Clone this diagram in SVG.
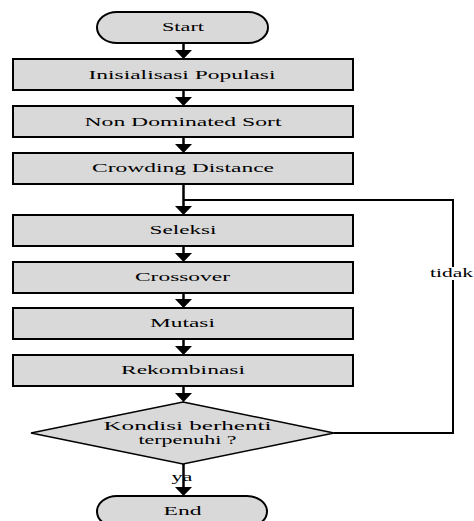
<svg xmlns="http://www.w3.org/2000/svg" width="474" height="521" viewBox="0 0 474 521">
<defs>
<style>
.box{fill:#d9d9d9;stroke:#000;stroke-width:2}
.term{fill:#d9d9d9;stroke:#000;stroke-width:2}
.dia{fill:#d9d9d9;stroke:#000;stroke-width:1.5}
.t{font-family:"Liberation Serif","Times New Roman",serif;font-size:13.5px;fill:#000;text-anchor:middle}
.c{fill:none;stroke:#000}
.v{stroke-width:2.5}
.fb{stroke-width:2}
.head{fill:#000}
</style>
</defs>
<rect width="474" height="521" fill="#fff"/>
<g id="connectors" font-family="Liberation Serif, serif">
<line class="c v" x1="183.5" y1="43" x2="183.5" y2="51"/>
<polygon class="head" points="175,50 192,50 183.5,59"/>
<line class="c v" x1="183.5" y1="90" x2="183.5" y2="98"/>
<polygon class="head" points="175,97 192,97 183.5,106"/>
<line class="c v" x1="183.5" y1="137" x2="183.5" y2="145"/>
<polygon class="head" points="175,144 192,144 183.5,153"/>
<line class="c v" x1="183.5" y1="184" x2="183.5" y2="207"/>
<polygon class="head" points="175,206 192,206 183.5,215"/>
<line class="c v" x1="183.5" y1="246" x2="183.5" y2="254"/>
<polygon class="head" points="175,253 192,253 183.5,262"/>
<line class="c v" x1="183.5" y1="293" x2="183.5" y2="300"/>
<polygon class="head" points="175,299 192,299 183.5,308"/>
<line class="c v" x1="183.5" y1="339" x2="183.5" y2="347"/>
<polygon class="head" points="175,346 192,346 183.5,355"/>
<line class="c v" x1="183.5" y1="386" x2="183.5" y2="394"/>
<polygon class="head" points="175,393 192,393 183.5,402"/>
<line class="c v" x1="183.5" y1="464" x2="183.5" y2="489"/>
<polygon class="head" points="175,487 192,487 183.5,496"/>
<polyline class="c fb" points="334,433 453,433 453,200 183.5,200"/>
<rect x="429" y="267" width="45" height="13" fill="#fff"/>
<text class="t" x="451.5" y="277" textLength="43" lengthAdjust="spacingAndGlyphs">tidak</text>
<text class="t" x="182" y="481" textLength="21" lengthAdjust="spacingAndGlyphs">ya</text>
</g>
<g id="start" font-family="Liberation Serif, serif">
<rect class="term" x="97" y="12" width="171" height="31" rx="20" ry="15.5"/>
<text class="t" x="183" y="31" textLength="42" lengthAdjust="spacingAndGlyphs">Start</text>
</g>
<g id="inisialisasi" font-family="Liberation Serif, serif">
<rect class="box" x="13" y="59" width="340" height="31"/>
<text class="t" x="182" y="78.5" textLength="187" lengthAdjust="spacingAndGlyphs">Inisialisasi Populasi</text>
</g>
<g id="nondominated" font-family="Liberation Serif, serif">
<rect class="box" x="13" y="106" width="340" height="31"/>
<text class="t" x="183" y="125.5" textLength="197" lengthAdjust="spacingAndGlyphs">Non Dominated Sort</text>
</g>
<g id="crowding" font-family="Liberation Serif, serif">
<rect class="box" x="13" y="153" width="340" height="31"/>
<text class="t" x="183" y="172" textLength="182" lengthAdjust="spacingAndGlyphs">Crowding Distance</text>
</g>
<g id="seleksi" font-family="Liberation Serif, serif">
<rect class="box" x="13" y="215" width="340" height="31"/>
<text class="t" x="183" y="234" textLength="67" lengthAdjust="spacingAndGlyphs">Seleksi</text>
</g>
<g id="crossover" font-family="Liberation Serif, serif">
<rect class="box" x="13" y="262" width="340" height="31"/>
<text class="t" x="182.5" y="281" textLength="95" lengthAdjust="spacingAndGlyphs">Crossover</text>
</g>
<g id="mutasi" font-family="Liberation Serif, serif">
<rect class="box" x="13" y="308" width="340" height="31"/>
<text class="t" x="182.5" y="327" textLength="65" lengthAdjust="spacingAndGlyphs">Mutasi</text>
</g>
<g id="rekombinasi" font-family="Liberation Serif, serif">
<rect class="box" x="13" y="355" width="340" height="31"/>
<text class="t" x="183" y="374" textLength="124" lengthAdjust="spacingAndGlyphs">Rekombinasi</text>
</g>
<g id="kondisi" font-family="Liberation Serif, serif">
<polygon class="dia" points="183,402 334,433 183,464 31,433"/>
<text class="t" x="187.5" y="430" textLength="168" lengthAdjust="spacingAndGlyphs">Kondisi berhenti</text>
<text class="t" x="187.5" y="444" textLength="98" lengthAdjust="spacingAndGlyphs">terpenuhi ?</text>
</g>
<g id="end" font-family="Liberation Serif, serif">
<rect class="term" x="97" y="496" width="170" height="31" rx="20" ry="15.5"/>
<text class="t" x="182.5" y="515" textLength="38" lengthAdjust="spacingAndGlyphs">End</text>
</g>
</svg>
